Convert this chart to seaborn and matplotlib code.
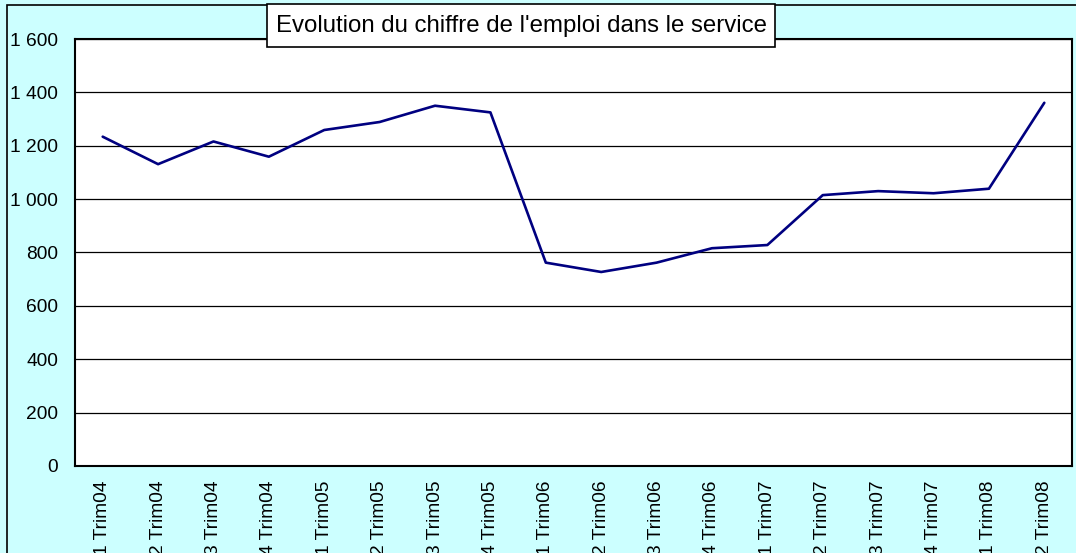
import numpy as np
import pandas as pd
import seaborn as sns
import matplotlib.pyplot as plt
from matplotlib.ticker import FuncFormatter, FixedLocator
from matplotlib.patches import Rectangle

# Trimestres et effectifs
trimestres = ["1 Trim04", "2 Trim04", "3 Trim04", "4 Trim04",
              "1 Trim05", "2 Trim05", "3 Trim05", "4 Trim05",
              "1 Trim06", "2 Trim06", "3 Trim06", "4 Trim06",
              "1 Trim07", "2 Trim07", "3 Trim07", "4 Trim07",
              "1 Trim08", "2 Trim08"]
emploi = [1234, 1131, 1216, 1159, 1259, 1289, 1350, 1325,
          762, 727, 762, 816, 828, 1015, 1030, 1022, 1039, 1361]
titre = "Evolution du chiffre de l'emploi dans le service"

df = pd.DataFrame({"pos": np.arange(len(trimestres)), "emploi": emploi})

sns.set_style("white")
plt.rcParams["font.family"] = ["Liberation Sans", "DejaVu Sans"]
plt.rcParams["text.color"] = "black"
plt.rcParams["xtick.color"] = "black"
plt.rcParams["ytick.color"] = "black"

W, H = 1076, 553
fig = plt.figure(figsize=(W / 100, H / 100), dpi=100)
fig.patch.set_facecolor("#CCFFFF")
# cadre exterieur
fig.patches.append(Rectangle((7 / W, -0.01), 1.02, (H - 5) / H + 0.01,
                             transform=fig.transFigure, fill=False,
                             edgecolor="black", linewidth=1.2))

ax = fig.add_axes([75 / W, 87 / H, 997 / W, 427 / H])
ax.set_facecolor("white")

sns.lineplot(data=df, x="pos", y="emploi", ax=ax, color="#000080", linewidth=1.9)

ax.set_ylim(0, 1600)
ax.set_yticks(range(0, 1601, 200))
ax.yaxis.set_major_formatter(FuncFormatter(lambda v, p: f"{int(v):,}".replace(",", " ")))
ax.grid(axis="y", color="black", linewidth=0.9)
ax.set_axisbelow(True)

ax.set_xlim(-0.5, len(trimestres) - 0.5)
ax.set_xticks(np.arange(len(trimestres)))
ax.set_xticklabels(trimestres, rotation=90, va="top")
ax.xaxis.set_minor_locator(FixedLocator(np.arange(-0.5, len(trimestres), 1)))
ax.tick_params(axis="x", which="major", length=0, pad=10.5, labelsize=13.8)
ax.tick_params(axis="x", which="minor", length=4.3, width=1.5, direction="out")
ax.tick_params(axis="y", length=5, width=1, direction="out", pad=7, labelsize=13.8)
ax.set_xlabel("")
ax.set_ylabel("")

for s in ax.spines.values():
    s.set_color("black")
    s.set_linewidth(1.5)

# cadre du titre
fig.patches.append(Rectangle((267 / W, 1 - 47 / H), 508 / W, 43 / H,
                             transform=fig.transFigure, facecolor="white",
                             edgecolor="black", linewidth=1.2, zorder=5))
fig.text(521 / W, 1 - 26 / H, titre, ha="center", va="center", fontsize=17.3, zorder=6)

fig.savefig("out.png", dpi=100, facecolor=fig.get_facecolor())
